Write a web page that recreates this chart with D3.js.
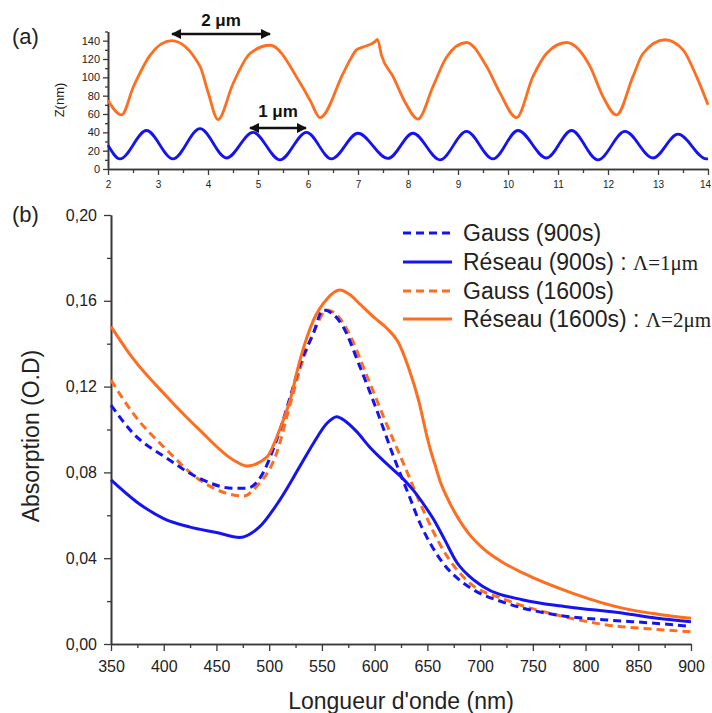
<!DOCTYPE html>
<html><head><meta charset="utf-8">
<script src="https://cdnjs.cloudflare.com/ajax/libs/d3/7.8.5/d3.min.js"></script>
<style>body{margin:0;background:#fff}svg{display:block}</style>
</head><body>
<svg id="c" width="712" height="713"></svg>
<script>
// ---------- Panel (a): AFM profiles (x in µm, Z in nm)
const profileOrangeX = [2.0,2.27,2.51,2.84,3.27,3.84,4.0,4.2,4.5,4.84,5.24,5.84,6.05,6.24,6.7,6.84,6.97,7.1,7.34,7.39,7.47,7.7,7.95,8.2,8.5,8.77,9.17,9.57,9.84,10.17,10.5,10.77,11.17,11.64,11.9,12.17,12.5,12.7,13.14,13.5,13.77,14.0];
const profileOrangeZ = [75,59,90,124,140,112,84,54,93,126,135,94,74,56,104,119,130,133,139,141.5,124,101,72,54.5,90,122,138,112,83,56,101,126,138,112,79,59,101,126,141,130,101,70];
const profileBlueX = [2.0,2.24,2.77,3.3,3.84,4.37,4.9,5.44,5.97,6.47,7.0,7.6,8.1,8.64,9.17,9.7,10.2,10.77,11.27,11.8,12.34,12.9,13.4,13.97,14.0];
const profileBlueZ = [26,11,42,11,44,12,40,10,40,11,39,11.5,39,10,41,11,42,12,42,10,41,12,38,11,11];
const xTicksA = [2,3,4,5,6,7,8,9,10,11,12,13,14];
const zTicksA = [0,20,40,60,80,100,120,140];

// ---------- Panel (b): absorption spectra (nm, O.D)
const gauss900 = [[350,.1114],[371,.0982],[403,.0866],[434,.0772],[466,.0726],[479,.0726],[491,.0772],[507,.095],[520,.1153],[529,.130],[542,.145],[551,.1557],[560,.154],[570,.148],[586,.1293],[602,.109],[618,.0873],[633,.0687],[643,.0563],[655,.045],[665,.0376],[680,.030],[694,.0252],[725,.019],[773,.0135],[820,.0112],[868,.0096],[900,.0081]];
const reseau900 = [[350,.0765],[375,.066],[400,.0585],[425,.0545],[450,.052],[472,.0497],[491,.0547],[510,.0671],[529,.0827],[542,.0936],[555,.103],[564,.106],[572,.104],[583,.099],[595,.092],[605,.087],[616,.082],[627,.077],[637,.0715],[646,.0655],[656,.058],[666,.049],[678,.038],[690,.0315],[703,.0267],[741,.0205],[782,.0174],[836,.0143],[868,.012],[900,.0104]];
const gauss1600 = [[350,.123],[371,.1075],[403,.0904],[434,.0765],[466,.0695],[476,.069],[488,.0734],[507,.0889],[520,.112],[529,.1277],[542,.145],[555,.1557],[563,.154],[574,.1464],[593,.1246],[611,.1029],[630,.0811],[646,.0625],[665,.0438],[687,.0298],[725,.0205],[773,.0135],[820,.0089],[868,.0068],[900,.0057]];
const reseau1600 = [[350,.148],[371,.133],[403,.1153],[434,.0998],[466,.0858],[479,.083],[498,.0873],[510,.100],[520,.114],[529,.132],[542,.151],[555,.161],[567,.165],[576,.163],[586,.1585],[600,.152],[612,.147],[622,.141],[632,.129],[642,.113],[650,.096],[655,.087],[657,.084],[662,.076],[670,.067],[680,.058],[690,.051],[703,.0445],[720,.0385],[741,.033],[788,.0236],[836,.0166],[870,.0138],[900,.012]];
const seriesNames = ["Gauss (900s)","Réseau (900s) : ","Gauss (1600s)","Réseau (1600s) : "];
const seriesSuffix = ["","Λ=1μm","","Λ=2μm"];
const xTicksB = [350,400,450,500,550,600,650,700,750,800,850,900];
const yTicksB = [0,0.04,0.08,0.12,0.16,0.20];

const ORANGE = "#ff6d1f", BLUE = "#1414f0", AX = "#3a3a3a";
const SANS = "'Liberation Sans', Arial, sans-serif";
const SERIF = "'Liberation Serif', 'Times New Roman', serif";

const svg = d3.select("#c");

// ===== Panel (a)
const xA = d3.scaleLinear().domain([2,14]).range([108,708]);
const yA = d3.scaleLinear().domain([0,150]).range([169,31.5]);
const gA = svg.append("g");

function styleAxis(g, fs){
  g.select(".domain").attr("stroke",AX).attr("stroke-width",1.6);
  g.selectAll(".tick line").attr("stroke",AX).attr("stroke-width",1.3);
  g.selectAll(".tick text").attr("fill","#222").attr("font-family",SANS).attr("font-size",fs);
}
gA.append("g").attr("transform","translate(0,169)")
  .call(d3.axisBottom(xA).tickValues(d3.range(2.5,14,1)).tickSize(4).tickFormat("").tickSizeOuter(0))
  .call(g=>styleAxis(g,10));
gA.append("g").attr("transform","translate(0,169)")
  .call(d3.axisBottom(xA).tickValues(xTicksA).tickSize(6).tickPadding(6).tickSizeOuter(0))
  .call(g=>styleAxis(g,10))
  .call(g=>g.selectAll(".tick text").filter(d=>d===14).attr("dx",-3));
gA.append("g").attr("transform","translate(108,0)")
  .call(d3.axisLeft(yA).tickValues([10,30,50,70,90,110,130,150]).tickSize(3).tickFormat("").tickSizeOuter(0))
  .call(g=>styleAxis(g,11));
gA.append("g").attr("transform","translate(108,0)")
  .call(d3.axisLeft(yA).tickValues(zTicksA).tickSize(5).tickPadding(3).tickSizeOuter(0))
  .call(g=>styleAxis(g,11));
gA.append("text").attr("transform","translate(64,100) rotate(-90)").attr("text-anchor","middle")
  .attr("font-family",SANS).attr("font-size",13).attr("fill","#222").text("Z(nm)");

const lineA = d3.line().x(d=>xA(d[0])).y(d=>yA(d[1])).curve(d3.curveMonotoneX);
gA.append("path").datum(d3.zip(profileOrangeX,profileOrangeZ)).attr("d",lineA)
  .attr("fill","none").attr("stroke",ORANGE).attr("stroke-width",2.8).attr("stroke-linejoin","round");
gA.append("path").datum(d3.zip(profileBlueX,profileBlueZ)).attr("d",lineA)
  .attr("fill","none").attr("stroke",BLUE).attr("stroke-width",2.8).attr("stroke-linejoin","round");

const defs = svg.append("defs");
defs.append("marker").attr("id","ah").attr("viewBox","0 0 10 10").attr("refX",9).attr("refY",5)
  .attr("markerWidth",4.2).attr("markerHeight",4.2).attr("markerUnits","strokeWidth").attr("orient","auto-start-reverse")
  .append("path").attr("d","M0,0 L10,5 L0,10 z").attr("fill","#111");
const arrows = [{x0:3.28,x1:5.24,z:147.3,label:"2 μm",lz:162},{x0:4.84,x1:5.96,z:44.7,label:"1 μm",lz:63}];
arrows.forEach(a=>{
  gA.append("line").attr("x1",xA(a.x0)).attr("x2",xA(a.x1)).attr("y1",yA(a.z)).attr("y2",yA(a.z))
    .attr("stroke","#111").attr("stroke-width",2.4).attr("marker-start","url(#ah)").attr("marker-end","url(#ah)");
  gA.append("text").attr("x",(xA(a.x0)+xA(a.x1))/2).attr("y",yA(a.lz)).attr("dy","0.35em").attr("text-anchor","middle")
    .attr("font-family",SANS).attr("font-weight","bold").attr("font-size",17).attr("fill","#111").text(a.label);
});
svg.append("text").attr("x",12).attr("y",44).attr("font-family",SANS).attr("font-size",22).attr("fill","#222").text("(a)");

// ===== Panel (b)
const xB = d3.scaleLinear().domain([350,900]).range([111,691]);
const yB = d3.scaleLinear().domain([0,0.2]).range([644,215]);
const gB = svg.append("g");
gB.append("g").attr("transform","translate(0,644)")
  .call(d3.axisBottom(xB).tickValues(d3.range(375,900,50)).tickSize(4).tickFormat("").tickSizeOuter(0))
  .call(g=>styleAxis(g,16));
gB.append("g").attr("transform","translate(0,644)")
  .call(d3.axisBottom(xB).tickValues(xTicksB).tickSize(7).tickPadding(10).tickSizeOuter(0))
  .call(g=>styleAxis(g,16));
gB.append("g").attr("transform","translate(111,0)")
  .call(d3.axisLeft(yB).tickValues([0.02,0.06,0.10,0.14,0.18]).tickSize(4).tickFormat("").tickSizeOuter(0))
  .call(g=>styleAxis(g,16));
gB.append("g").attr("transform","translate(111,0)")
  .call(d3.axisLeft(yB).tickValues(yTicksB).tickSize(7).tickPadding(7).tickSizeOuter(0)
    .tickFormat(d=>d3.format(".2f")(d).replace(".",",")))
  .call(g=>styleAxis(g,16));
gB.append("text").attr("x",401).attr("y",709).attr("text-anchor","middle")
  .attr("font-family",SANS).attr("font-size",23).attr("fill","#222").text("Longueur d'onde (nm)");
gB.append("text").attr("transform","translate(39,436) rotate(-90)").attr("text-anchor","middle")
  .attr("font-family",SANS).attr("font-size",23).attr("fill","#222").text("Absorption (O.D)");
svg.append("text").attr("x",12).attr("y",222).attr("font-family",SANS).attr("font-size",22).attr("fill","#222").text("(b)");

const series = [
  {data:gauss900, color:BLUE, dash:"8,5"},
  {data:reseau900, color:BLUE, dash:null},
  {data:gauss1600, color:ORANGE, dash:"8,5"},
  {data:reseau1600, color:ORANGE, dash:null}
];
const lineB = d3.line().x(d=>xB(d[0])).y(d=>yB(d[1])).curve(d3.curveMonotoneX);
[2,0,3,1].forEach(i=>{
  const s = series[i];
  gB.append("path").datum(s.data).attr("d",lineB).attr("fill","none").attr("stroke",s.color)
    .attr("stroke-width",3).attr("stroke-dasharray",s.dash).attr("stroke-linejoin","round");
});

const legY = [233,262,291,319];
series.forEach((s,i)=>{
  gB.append("line").attr("x1",403).attr("x2",452).attr("y1",legY[i]).attr("y2",legY[i])
    .attr("stroke",s.color).attr("stroke-width",3).attr("stroke-dasharray",s.dash);
  const t = gB.append("text").attr("x",463).attr("y",legY[i]).attr("dy","0.36em")
    .attr("font-family",SANS).attr("font-size",23).attr("fill","#222");
  t.append("tspan").text(seriesNames[i]);
  if (seriesSuffix[i]) t.append("tspan").attr("font-family",SERIF).attr("font-size",21).text(seriesSuffix[i]);
});
</script>
</body></html>
